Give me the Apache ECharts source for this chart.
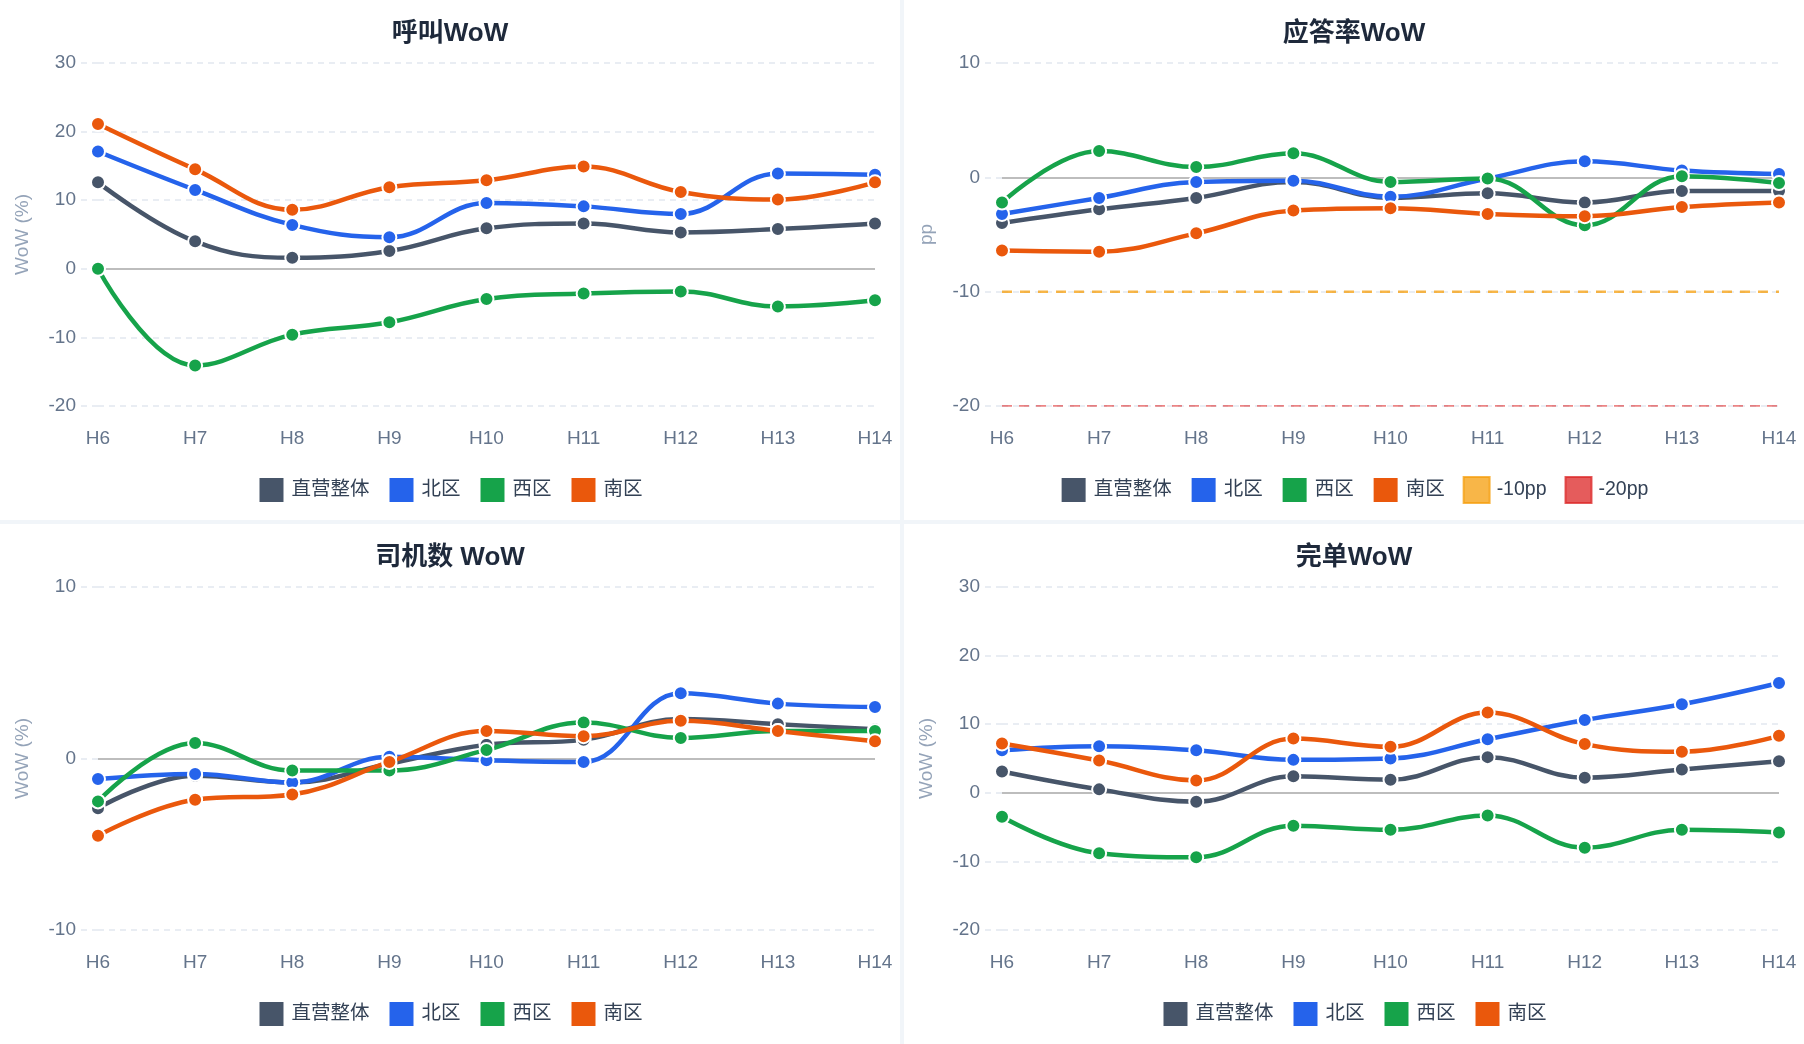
<!DOCTYPE html>
<html>
<head>
<meta charset="utf-8">
<script src="https://cdn.jsdelivr.net/npm/echarts@6/dist/echarts.min.js"></script>
<style>
  html, body { margin: 0; padding: 0; background: #f1f5f9; }
  #wrap {
    width: 1804px; height: 1044px;
    display: grid;
    grid-template-columns: 900px 900px;
    grid-template-rows: 520px 520px;
    gap: 4px;
  }
  .panel { background: #fff; width: 900px; height: 520px; }
</style>
</head>
<body>
<div id="wrap">
  <div class="panel" id="c1"></div>
  <div class="panel" id="c2"></div>
  <div class="panel" id="c3"></div>
  <div class="panel" id="c4"></div>
</div>
<script>
const hours = ["H6", "H7", "H8", "H9", "H10", "H11", "H12", "H13", "H14"];
const regionNames = ["直营整体", "北区", "西区", "南区"];
const regionColors = ["#475569", "#2563eb", "#16a34a", "#ea580c"];

// 呼叫WoW (%)
const callOverall = [12.6, 4.0, 1.6, 2.6, 5.9, 6.6, 5.3, 5.8, 6.6];
const callNorth = [17.1, 11.5, 6.4, 4.6, 9.6, 9.1, 8.0, 13.9, 13.7];
const callWest = [0.0, -14.1, -9.6, -7.8, -4.4, -3.6, -3.3, -5.5, -4.6];
const callSouth = [21.1, 14.5, 8.6, 11.9, 12.9, 14.9, 11.2, 10.1, 12.6];

// 应答率WoW (pp)
const answerOverall = [-4.0, -2.8, -1.8, -0.4, -1.8, -1.4, -2.2, -1.2, -1.2];
const answerNorth = [-3.2, -1.8, -0.4, -0.3, -1.7, -0.1, 1.4, 0.6, 0.3];
const answerWest = [-2.2, 2.3, 0.9, 2.1, -0.4, -0.1, -4.2, 0.1, -0.5];
const answerSouth = [-6.4, -6.5, -4.9, -2.9, -2.7, -3.2, -3.4, -2.6, -2.2];
const warn10 = [-10, -10, -10, -10, -10, -10, -10, -10, -10];
const warn20 = [-20, -20, -20, -20, -20, -20, -20, -20, -20];

// 司机数 WoW (%)
const driverOverall = [-2.9, -1.0, -1.4, -0.3, 0.8, 1.1, 2.3, 2.0, 1.7];
const driverNorth = [-1.2, -0.9, -1.4, 0.1, -0.1, -0.2, 3.8, 3.2, 3.0];
const driverWest = [-2.5, 0.9, -0.7, -0.7, 0.5, 2.1, 1.2, 1.6, 1.6];
const driverSouth = [-4.5, -2.4, -2.1, -0.2, 1.6, 1.3, 2.2, 1.6, 1.0];

// 完单WoW (%)
const orderOverall = [3.1, 0.5, -1.3, 2.4, 1.9, 5.2, 2.2, 3.4, 4.6];
const orderNorth = [6.2, 6.8, 6.2, 4.8, 5.0, 7.8, 10.6, 12.9, 16.0];
const orderWest = [-3.5, -8.8, -9.4, -4.8, -5.4, -3.3, -8.0, -5.4, -5.8];
const orderSouth = [7.2, 4.7, 1.8, 7.9, 6.7, 11.7, 7.1, 6.0, 8.3];

const FONT = '"Liberation Sans", "Noto Sans CJK SC", sans-serif';
const gridDash = { color: "#e2e8f0", width: 1.5, type: [6, 5] };

function regionSeries(values) {
  return values.map(function (data, i) {
    const s = {
      name: regionNames[i],
      type: "line",
      data: data,
      smooth: 0.4,
      symbol: "circle",
      symbolSize: 14,
      color: regionColors[i],
      lineStyle: { width: 4.5, color: regionColors[i] },
      itemStyle: { color: regionColors[i], borderColor: "#fff", borderWidth: 2 },
      z: 3,
    };
    if (i === 0) {
      // zero reference line
      s.markLine = {
        silent: true,
        symbol: "none",
        z: 1,
        label: { show: false },
        lineStyle: { color: "#bdbdbd", width: 2, type: "solid" },
        data: [{ yAxis: 0 }],
      };
    }
    return s;
  });
}

function thresholdSeries(name, data, color, width, dash) {
  return {
    name: name,
    type: "line",
    data: data,
    symbol: "none",
    color: color,
    lineStyle: { color: color, width: width, type: dash, opacity: 0.75 },
    itemStyle: { color: color, opacity: 0.75, borderColor: color, borderWidth: 2, borderType: [6, 8] },
    z: 2,
  };
}

function makeChart(id, title, yName, yMin, yMax, series) {
  const chart = echarts.init(document.getElementById(id), null, { renderer: "canvas" });
  chart.setOption({
    animation: false,
    textStyle: { fontFamily: FONT },
    title: {
      text: title,
      left: "center",
      top: 16,
      textStyle: { fontSize: 26, fontWeight: "bold", color: "#1e293b", fontFamily: FONT },
    },
    legend: {
      top: 476,
      left: "center",
      padding: 0,
      icon: "rect",
      itemWidth: 26,
      itemHeight: 26,
      itemGap: 18,
      textStyle: { fontSize: 19.5, color: "#334155", fontFamily: FONT, padding: [0, 0, 0, 2] },
    },
    grid: { left: 98, right: 25, top: 63, bottom: 114 },
    xAxis: {
      type: "category",
      data: hours,
      boundaryGap: false,
      axisLine: { show: false },
      axisTick: { show: false },
      axisLabel: { fontSize: 19, color: "#64748b", margin: 23, fontFamily: FONT },
      splitLine: { show: false },
    },
    yAxis: {
      type: "value",
      min: yMin,
      max: yMax,
      interval: 10,
      name: yName,
      nameLocation: "middle",
      nameGap: 66,
      nameTextStyle: { fontSize: 19, color: "#94a3b8", fontFamily: FONT },
      axisLine: { show: false },
      axisTick: { show: true, length: 21, lineStyle: gridDash },
      axisLabel: { fontSize: 19, color: "#64748b", margin: 22, fontFamily: FONT },
      splitLine: { show: true, lineStyle: gridDash },
    },
    series: series,
  });
  window.addEventListener("resize", chart.resize);
  return chart;
}

makeChart("c1", "呼叫WoW", "WoW (%)", -20, 30,
  regionSeries([callOverall, callNorth, callWest, callSouth]));

makeChart("c2", "应答率WoW", "pp", -20, 10,
  regionSeries([answerOverall, answerNorth, answerWest, answerSouth]).concat([
    thresholdSeries("-10pp", warn10, "#f59e0b", 2.5, [10, 8]),
    thresholdSeries("-20pp", warn20, "#dc2626", 1.5, [10, 7]),
  ]));

makeChart("c3", "司机数 WoW", "WoW (%)", -10, 10,
  regionSeries([driverOverall, driverNorth, driverWest, driverSouth]));

makeChart("c4", "完单WoW", "WoW (%)", -20, 30,
  regionSeries([orderOverall, orderNorth, orderWest, orderSouth]));
</script>
</body>
</html>
